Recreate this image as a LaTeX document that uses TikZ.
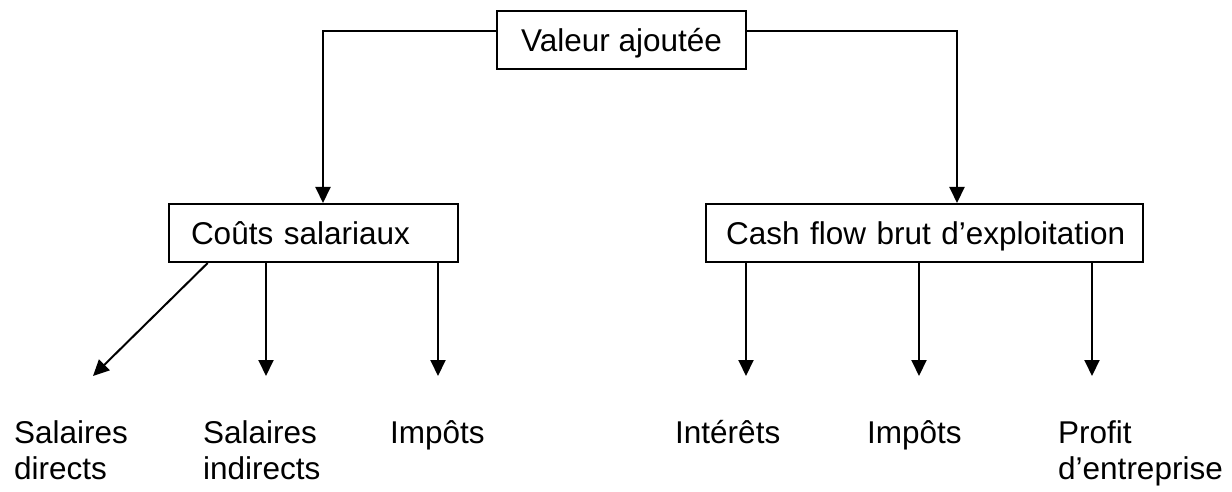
\documentclass[tikz,border=0pt]{standalone}
\usepackage{fontspec}
\setmainfont{Liberation Sans}
\usetikzlibrary{arrows.meta}
\begin{document}
\begin{tikzpicture}[x=1pt,y=-1pt,
  every node/.style={font=\fontsize{31.5}{36}\selectfont},
  box/.style={draw, line width=2pt, minimum height=58pt, inner ysep=0pt,
              text height=23pt, text depth=0pt},
  lbl/.style={anchor=north west, inner sep=0pt, align=left},
  link/.style={line width=2pt, -{Triangle[length=16pt,width=15pt]}}]
\useasboundingbox (0,0) rectangle (1232,492);

% boxes
\node[box, minimum width=249pt] (va) at (621.5,40) {Valeur ajoutée};
\node[box, text width=245pt, inner xsep=22pt, align=left] (cs) at (313.5,233) {\mbox{Coûts salariaux}};
\node[box, text width=397pt, inner xsep=20pt, align=left] (cf) at (924.5,233) {\mbox{Cash flow brut d’exploitation}};

% split of the value added
\draw[link] ([yshift=9pt]va.west) -| ([xshift=9.5pt]cs.north);
\draw[link] ([yshift=9pt]va.east) -| ([xshift=32.5pt]cf.north);

% arrow tips above the labels
\coordinate (t1) at (93,376);
\coordinate (t2) at (266,376);
\coordinate (t3) at (438,376);
\coordinate (t4) at (746,376);
\coordinate (t5) at (919,376);
\coordinate (t6) at (1092,376);

\draw[link] ([xshift=-105.8pt]cs.south) -- (t1);
\draw[link] ([xshift=-47.5pt]cs.south) -- (t2);
\draw[link] ([xshift=124.5pt]cs.south) -- (t3);
\draw[link] ([xshift=-178.5pt]cf.south) -- (t4);
\draw[link] ([xshift=-5.5pt]cf.south) -- (t5);
\draw[link] ([xshift=167.5pt]cf.south) -- (t6);

% labels
\node[lbl] (sd) at (14,420) {Salaires\\directs};
\node[lbl] (si) at (203,420) {Salaires\\indirects};
\node[lbl] (im1) at (390,420) {Impôts};
\node[lbl] (int) at (675,420) {Intérêts};
\node[lbl] (im2) at (867,420) {Impôts};
\node[lbl] (pe) at (1058,420) {Profit\\d’entreprise};
\end{tikzpicture}
\end{document}
